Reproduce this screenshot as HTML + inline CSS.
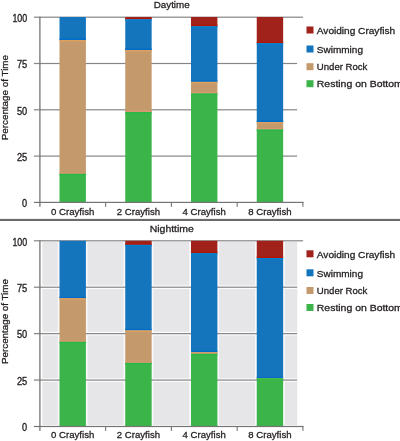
<!DOCTYPE html>
<html><head><meta charset="utf-8"><style>
html,body{margin:0;padding:0;background:#fff;width:400px;height:441px;overflow:hidden}
svg{display:block;will-change:transform}
text{font-family:"Liberation Sans", sans-serif;fill:#231F20;stroke:#231F20;stroke-width:0.3px}
</style></head><body>
<svg width="400" height="441" viewBox="0 0 400 441">
<rect x="33.90" y="16.60" width="269.20" height="1.20" fill="#868686"/>
<rect x="33.90" y="62.90" width="263.20" height="1.20" fill="#868686"/>
<rect x="33.90" y="109.20" width="263.20" height="1.20" fill="#868686"/>
<rect x="33.90" y="155.50" width="263.20" height="1.20" fill="#868686"/>
<rect x="59.50" y="17.00" width="26.4" height="23.00" fill="#1474BC"/>
<rect x="59.50" y="40.00" width="26.4" height="133.80" fill="#C49A6C"/>
<rect x="59.50" y="173.80" width="26.4" height="28.60" fill="#3BB54A"/>
<rect x="59.50" y="38.50" width="26.4" height="1.50" fill="#006EC8"/>
<rect x="59.50" y="40.00" width="26.4" height="1.50" fill="#DEA060"/>
<rect x="59.50" y="172.30" width="26.4" height="1.50" fill="#D99671"/>
<rect x="59.50" y="173.80" width="26.4" height="1.50" fill="#26B945"/>
<rect x="125.25" y="17.00" width="26.4" height="2.30" fill="#A0221A"/>
<rect x="125.25" y="19.30" width="26.4" height="30.70" fill="#1474BC"/>
<rect x="125.25" y="50.00" width="26.4" height="62.10" fill="#C49A6C"/>
<rect x="125.25" y="112.10" width="26.4" height="90.30" fill="#3BB54A"/>
<rect x="125.25" y="18.15" width="26.4" height="1.15" fill="#B51602"/>
<rect x="125.25" y="19.30" width="26.4" height="1.50" fill="#0080D4"/>
<rect x="125.25" y="48.50" width="26.4" height="1.50" fill="#006EC8"/>
<rect x="125.25" y="50.00" width="26.4" height="1.50" fill="#DEA060"/>
<rect x="125.25" y="110.60" width="26.4" height="1.50" fill="#D99671"/>
<rect x="125.25" y="112.10" width="26.4" height="1.50" fill="#26B945"/>
<rect x="191.00" y="17.00" width="26.4" height="9.30" fill="#A0221A"/>
<rect x="191.00" y="26.30" width="26.4" height="55.50" fill="#1474BC"/>
<rect x="191.00" y="81.80" width="26.4" height="11.70" fill="#C49A6C"/>
<rect x="191.00" y="93.50" width="26.4" height="108.90" fill="#3BB54A"/>
<rect x="191.00" y="24.80" width="26.4" height="1.50" fill="#B51602"/>
<rect x="191.00" y="26.30" width="26.4" height="1.50" fill="#0080D4"/>
<rect x="191.00" y="80.30" width="26.4" height="1.50" fill="#006EC8"/>
<rect x="191.00" y="81.80" width="26.4" height="1.50" fill="#DEA060"/>
<rect x="191.00" y="92.00" width="26.4" height="1.50" fill="#D99671"/>
<rect x="191.00" y="93.50" width="26.4" height="1.50" fill="#26B945"/>
<rect x="256.75" y="17.00" width="26.4" height="26.20" fill="#A0221A"/>
<rect x="256.75" y="43.20" width="26.4" height="78.80" fill="#1474BC"/>
<rect x="256.75" y="122.00" width="26.4" height="7.50" fill="#C49A6C"/>
<rect x="256.75" y="129.50" width="26.4" height="72.90" fill="#3BB54A"/>
<rect x="256.75" y="41.70" width="26.4" height="1.50" fill="#B51602"/>
<rect x="256.75" y="43.20" width="26.4" height="1.50" fill="#0080D4"/>
<rect x="256.75" y="120.50" width="26.4" height="1.50" fill="#006EC8"/>
<rect x="256.75" y="122.00" width="26.4" height="1.50" fill="#DEA060"/>
<rect x="256.75" y="128.00" width="26.4" height="1.50" fill="#D99671"/>
<rect x="256.75" y="129.50" width="26.4" height="1.50" fill="#26B945"/>
<rect x="33.90" y="201.80" width="269.70" height="1.20" fill="#747474"/>
<rect x="39.25" y="16.70" width="1.30" height="190.10" fill="#747474"/>
<rect x="105.10" y="202.40" width="1.10" height="4.40" fill="#747474"/>
<rect x="170.85" y="202.40" width="1.10" height="4.40" fill="#747474"/>
<rect x="236.60" y="202.40" width="1.10" height="4.40" fill="#747474"/>
<rect x="302.35" y="202.40" width="1.10" height="4.40" fill="#747474"/>
<rect x="42.4" y="242.00" width="254.90" height="183.10" fill="#E6E6E8"/>
<rect x="57.80" y="241.40" width="29.80" height="185.10" fill="#f9f9fb"/>
<rect x="123.55" y="241.40" width="29.80" height="185.10" fill="#f9f9fb"/>
<rect x="189.30" y="241.40" width="29.80" height="185.10" fill="#f9f9fb"/>
<rect x="255.05" y="241.40" width="29.80" height="185.10" fill="#f9f9fb"/>
<rect x="34.00" y="285.43" width="263.30" height="3.60" fill="#fbfbfc"/>
<rect x="34.00" y="331.85" width="263.30" height="3.60" fill="#fbfbfc"/>
<rect x="34.00" y="378.27" width="263.30" height="3.60" fill="#fbfbfc"/>
<rect x="33.90" y="240.20" width="269.20" height="1.20" fill="#868686"/>
<rect x="33.90" y="286.62" width="263.20" height="1.20" fill="#868686"/>
<rect x="33.90" y="333.05" width="263.20" height="1.20" fill="#868686"/>
<rect x="33.90" y="379.47" width="263.20" height="1.20" fill="#868686"/>
<rect x="59.50" y="240.80" width="26.4" height="57.40" fill="#1474BC"/>
<rect x="59.50" y="298.20" width="26.4" height="43.60" fill="#C49A6C"/>
<rect x="59.50" y="341.80" width="26.4" height="84.70" fill="#3BB54A"/>
<rect x="59.50" y="296.70" width="26.4" height="1.50" fill="#006EC8"/>
<rect x="59.50" y="298.20" width="26.4" height="1.50" fill="#DEA060"/>
<rect x="59.50" y="340.30" width="26.4" height="1.50" fill="#D99671"/>
<rect x="59.50" y="341.80" width="26.4" height="1.50" fill="#26B945"/>
<rect x="125.25" y="240.80" width="26.4" height="4.00" fill="#A0221A"/>
<rect x="125.25" y="244.80" width="26.4" height="85.60" fill="#1474BC"/>
<rect x="125.25" y="330.40" width="26.4" height="32.50" fill="#C49A6C"/>
<rect x="125.25" y="362.90" width="26.4" height="63.60" fill="#3BB54A"/>
<rect x="125.25" y="243.30" width="26.4" height="1.50" fill="#B51602"/>
<rect x="125.25" y="244.80" width="26.4" height="1.50" fill="#0080D4"/>
<rect x="125.25" y="328.90" width="26.4" height="1.50" fill="#006EC8"/>
<rect x="125.25" y="330.40" width="26.4" height="1.50" fill="#DEA060"/>
<rect x="125.25" y="361.40" width="26.4" height="1.50" fill="#D99671"/>
<rect x="125.25" y="362.90" width="26.4" height="1.50" fill="#26B945"/>
<rect x="191.00" y="240.80" width="26.4" height="12.40" fill="#A0221A"/>
<rect x="191.00" y="253.20" width="26.4" height="99.00" fill="#1474BC"/>
<rect x="191.00" y="352.20" width="26.4" height="1.60" fill="#C49A6C"/>
<rect x="191.00" y="353.80" width="26.4" height="72.70" fill="#3BB54A"/>
<rect x="191.00" y="251.70" width="26.4" height="1.50" fill="#B51602"/>
<rect x="191.00" y="253.20" width="26.4" height="1.50" fill="#0080D4"/>
<rect x="191.00" y="350.70" width="26.4" height="1.50" fill="#006EC8"/>
<rect x="191.00" y="352.20" width="26.4" height="0.80" fill="#DEA060"/>
<rect x="191.00" y="353.00" width="26.4" height="0.80" fill="#D99671"/>
<rect x="191.00" y="353.80" width="26.4" height="1.50" fill="#26B945"/>
<rect x="256.75" y="240.80" width="26.4" height="17.20" fill="#A0221A"/>
<rect x="256.75" y="258.00" width="26.4" height="120.30" fill="#1474BC"/>
<rect x="256.75" y="378.30" width="26.4" height="48.20" fill="#3BB54A"/>
<rect x="256.75" y="256.50" width="26.4" height="1.50" fill="#B51602"/>
<rect x="256.75" y="258.00" width="26.4" height="1.50" fill="#0080D4"/>
<rect x="256.75" y="376.80" width="26.4" height="1.50" fill="#0E6ACD"/>
<rect x="256.75" y="378.30" width="26.4" height="1.50" fill="#41BF39"/>
<rect x="33.90" y="425.90" width="269.70" height="1.20" fill="#747474"/>
<rect x="39.25" y="240.30" width="1.30" height="190.60" fill="#747474"/>
<rect x="105.10" y="426.50" width="1.10" height="4.40" fill="#747474"/>
<rect x="170.85" y="426.50" width="1.10" height="4.40" fill="#747474"/>
<rect x="236.60" y="426.50" width="1.10" height="4.40" fill="#747474"/>
<rect x="302.35" y="426.50" width="1.10" height="4.40" fill="#747474"/>
<rect x="0" y="218.9" width="400" height="2.1" fill="#6a6a6a"/>
<rect x="306.5" y="26.50" width="7" height="7" fill="#A0221A"/>
<rect x="306.5" y="45.50" width="7" height="7" fill="#1474BC"/>
<rect x="306.5" y="63.20" width="7" height="7" fill="#C49A6C"/>
<rect x="306.5" y="80.20" width="7" height="7" fill="#3BB54A"/>
<rect x="306.5" y="250.30" width="7" height="7" fill="#A0221A"/>
<rect x="306.5" y="269.30" width="7" height="7" fill="#1474BC"/>
<rect x="306.5" y="287.00" width="7" height="7" fill="#C49A6C"/>
<rect x="306.5" y="304.00" width="7" height="7" fill="#3BB54A"/>
<text x="153.70" y="7.80" font-size="9.9" text-anchor="start" textLength="36.0" lengthAdjust="spacingAndGlyphs">Daytime</text>
<text x="149.70" y="231.80" font-size="9.9" text-anchor="start" textLength="44.2" lengthAdjust="spacingAndGlyphs">Nighttime</text>
<text transform="translate(8.2,140.3) rotate(-90)" font-size="9.9" textLength="85.3" lengthAdjust="spacingAndGlyphs">Percentage of Time</text>
<text transform="translate(8.2,364.0) rotate(-90)" font-size="9.9" textLength="84.9" lengthAdjust="spacingAndGlyphs">Percentage of Time</text>
<text x="12.40" y="21.90" font-size="10.5" text-anchor="start" textLength="14.8" lengthAdjust="spacingAndGlyphs" style="stroke-width:0.35px">100</text>
<text x="16.90" y="68.20" font-size="10.5" text-anchor="start" textLength="10.3" lengthAdjust="spacingAndGlyphs" style="stroke-width:0.35px">75</text>
<text x="16.90" y="114.50" font-size="10.5" text-anchor="start" textLength="10.3" lengthAdjust="spacingAndGlyphs" style="stroke-width:0.35px">50</text>
<text x="16.90" y="160.80" font-size="10.5" text-anchor="start" textLength="10.3" lengthAdjust="spacingAndGlyphs" style="stroke-width:0.35px">25</text>
<text x="22.10" y="207.10" font-size="10.5" text-anchor="start" textLength="5.1" lengthAdjust="spacingAndGlyphs" style="stroke-width:0.35px">0</text>
<text x="12.40" y="245.50" font-size="10.5" text-anchor="start" textLength="14.8" lengthAdjust="spacingAndGlyphs" style="stroke-width:0.35px">100</text>
<text x="16.90" y="291.93" font-size="10.5" text-anchor="start" textLength="10.3" lengthAdjust="spacingAndGlyphs" style="stroke-width:0.35px">75</text>
<text x="16.90" y="338.35" font-size="10.5" text-anchor="start" textLength="10.3" lengthAdjust="spacingAndGlyphs" style="stroke-width:0.35px">50</text>
<text x="16.90" y="384.77" font-size="10.5" text-anchor="start" textLength="10.3" lengthAdjust="spacingAndGlyphs" style="stroke-width:0.35px">25</text>
<text x="22.10" y="431.20" font-size="10.5" text-anchor="start" textLength="5.1" lengthAdjust="spacingAndGlyphs" style="stroke-width:0.35px">0</text>
<text x="51.10" y="214.80" font-size="9.9" text-anchor="start" textLength="43.2" lengthAdjust="spacingAndGlyphs">0 Crayfish</text>
<text x="116.85" y="214.80" font-size="9.9" text-anchor="start" textLength="43.2" lengthAdjust="spacingAndGlyphs">2 Crayfish</text>
<text x="182.60" y="214.80" font-size="9.9" text-anchor="start" textLength="43.2" lengthAdjust="spacingAndGlyphs">4 Crayfish</text>
<text x="248.35" y="214.80" font-size="9.9" text-anchor="start" textLength="43.2" lengthAdjust="spacingAndGlyphs">8 Crayfish</text>
<text x="51.10" y="438.30" font-size="9.9" text-anchor="start" textLength="43.2" lengthAdjust="spacingAndGlyphs">0 Crayfish</text>
<text x="116.85" y="438.30" font-size="9.9" text-anchor="start" textLength="43.2" lengthAdjust="spacingAndGlyphs">2 Crayfish</text>
<text x="182.60" y="438.30" font-size="9.9" text-anchor="start" textLength="43.2" lengthAdjust="spacingAndGlyphs">4 Crayfish</text>
<text x="248.35" y="438.30" font-size="9.9" text-anchor="start" textLength="43.2" lengthAdjust="spacingAndGlyphs">8 Crayfish</text>
<text x="316.80" y="33.70" font-size="9.9" text-anchor="start" textLength="78.3" lengthAdjust="spacingAndGlyphs">Avoiding Crayfish</text>
<text x="316.80" y="52.70" font-size="9.9" text-anchor="start" textLength="46.2" lengthAdjust="spacingAndGlyphs">Swimming</text>
<text x="316.80" y="70.40" font-size="9.9" text-anchor="start" textLength="50.6" lengthAdjust="spacingAndGlyphs">Under Rock</text>
<text x="316.80" y="87.40" font-size="9.9" text-anchor="start" textLength="86.0" lengthAdjust="spacingAndGlyphs">Resting on Bottom</text>
<text x="316.80" y="257.50" font-size="9.9" text-anchor="start" textLength="78.3" lengthAdjust="spacingAndGlyphs">Avoiding Crayfish</text>
<text x="316.80" y="276.50" font-size="9.9" text-anchor="start" textLength="46.2" lengthAdjust="spacingAndGlyphs">Swimming</text>
<text x="316.80" y="294.20" font-size="9.9" text-anchor="start" textLength="50.6" lengthAdjust="spacingAndGlyphs">Under Rock</text>
<text x="316.80" y="311.20" font-size="9.9" text-anchor="start" textLength="86.0" lengthAdjust="spacingAndGlyphs">Resting on Bottom</text>
</svg>
</body></html>
